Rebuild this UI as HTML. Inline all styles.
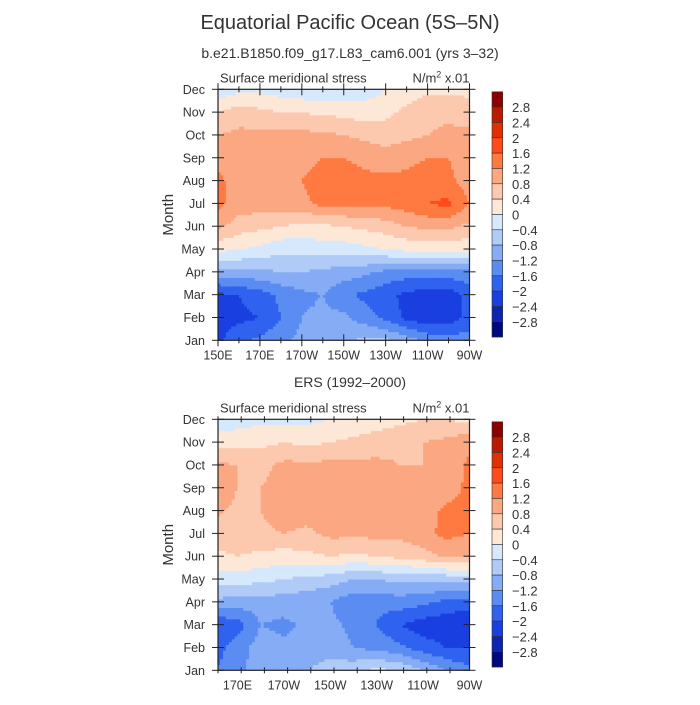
<!DOCTYPE html>
<html><head><meta charset="utf-8"><style>
body{margin:0;background:#fff;}
svg text{font-family:"Liberation Sans",sans-serif;fill:#333;}
</style></head><body>
<svg id="c" width="700" height="700" viewBox="0 0 700 700" xmlns="http://www.w3.org/2000/svg">
<text x="350" y="29" font-size="20" text-anchor="middle">Equatorial Pacific Ocean (5S–5N)</text>
<text x="350" y="58" font-size="14" text-anchor="middle">b.e21.B1850.f09_g17.L83_cam6.001 (yrs 3–32)</text>
<text x="350" y="387" font-size="14" text-anchor="middle">ERS (1992–2000)</text>
<g id="g"></g>
</svg>
<script>
const months=["Jan","Feb","Mar","Apr","May","Jun","Jul","Aug","Sep","Oct","Nov","Dec"];
const levels=[-2.8,-2.4,-2,-1.6,-1.2,-0.8,-0.4,0,0.4,0.8,1.2,1.6,2,2.4,2.8];
const levelLabels=["2.8","2.4","2","1.6","1.2","0.8","0.4","0","−0.4","−0.8","−1.2","−1.6","−2","−2.4","−2.8"];
const colors=["#000880","#0c24b0","#1a3fe0","#2f62ef","#5a8cf2","#86acf6","#b0cbf8","#d6e8fb","#fde8d8","#fcc8ae","#fba882","#ff7a40","#ff4a1a","#e03000","#bb1a00","#8c0000"];
const topLons=[150,160,170,180,190,200,210,220,230,240,250,260,270];
const topVals=[
[-2.1,-1.7,-1.5,-1.3,-1.1,-1.0,-0.9,-0.7,-0.7,-1.0,-1.3,-1.4,-1.4],
[-2.2,-2.1,-2.0,-1.6,-1.2,-1.1,-1.1,-1.4,-1.7,-2.1,-2.3,-2.2,-1.9],
[-2.1,-2.0,-1.8,-1.5,-1.3,-1.2,-1.5,-1.7,-1.9,-2.1,-2.2,-2.2,-1.9],
[-1.0,-0.9,-0.9,-0.8,-0.8,-0.9,-1.0,-1.1,-1.3,-1.4,-1.4,-1.4,-1.3],
[0.1,0.0,-0.1,-0.3,-0.3,-0.2,-0.2,-0.1,0.0,0.1,0.1,0.1,0.1],
[0.9,0.6,0.5,0.4,0.3,0.3,0.4,0.5,0.6,0.8,0.9,0.9,0.7],
[1.3,1.0,1.0,1.0,1.1,1.3,1.3,1.3,1.3,1.4,1.6,1.7,1.2],
[1.3,1.0,1.0,1.0,1.2,1.4,1.4,1.3,1.3,1.3,1.4,1.3,1.0],
[1.1,1.0,0.9,0.9,1.0,1.2,1.2,1.1,1.0,1.1,1.2,1.2,1.0],
[0.8,0.9,0.9,0.9,0.9,0.9,0.8,0.7,0.6,0.7,0.8,0.9,0.9],
[0.4,0.6,0.5,0.4,0.4,0.3,0.3,0.2,0.3,0.5,0.7,0.7,0.6],
[-0.3,-0.1,-0.1,-0.2,-0.3,-0.3,-0.3,-0.2,0.0,0.2,0.3,0.3,0.3]];
const botLons=[160,170,180,190,200,210,220,230,240,250,260,270];
const botVals=[
[-1.6,-1.3,-1.0,-0.9,-0.8,-0.6,-0.5,-0.3,-0.4,-0.8,-1.2,-1.5],
[-1.8,-1.4,-1.0,-1.1,-1.0,-1.0,-1.2,-1.3,-1.5,-1.8,-2.0,-2.0],
[-2.0,-1.8,-1.2,-1.3,-1.1,-1.1,-1.3,-1.6,-2.0,-2.2,-2.3,-2.4],
[-0.9,-1.0,-1.0,-1.0,-1.1,-1.2,-1.5,-1.5,-1.4,-1.5,-1.7,-1.8],
[-0.2,-0.2,-0.3,-0.4,-0.5,-0.6,-0.8,-0.8,-0.7,-0.7,-0.7,-0.6],
[0.3,0.4,0.3,0.2,0.3,0.4,0.3,0.4,0.5,0.6,0.9,0.8],
[0.6,0.6,0.7,0.8,0.7,0.9,0.9,0.9,0.9,1.1,1.3,1.2],
[0.9,0.7,0.8,1.0,1.0,1.0,1.0,1.0,1.0,1.0,1.3,1.3],
[1.1,0.8,0.8,0.9,1.0,1.0,1.0,1.0,0.9,0.9,1.0,1.3],
[0.9,0.8,0.7,0.9,0.9,0.9,0.9,0.9,0.8,0.8,0.9,1.3],
[0.2,0.3,0.3,0.4,0.3,0.4,0.5,0.6,0.7,0.8,0.9,1.1],
[-0.3,-0.2,-0.1,-0.1,-0.1,0.0,0.1,0.2,0.3,0.4,0.4,0.3]];
const topTickLons=[150,170,190,210,230,250,270];
const topTickLabels=["150E","170E","170W","150W","130W","110W","90W"];
const botTickLons=[170,190,210,230,250,270];
const botTickLabels=["170E","170W","150W","130W","110W","90W"];

const NS="http://www.w3.org/2000/svg";
const G=document.getElementById('g');
function mk(t,a,p){const e=document.createElementNS(NS,t);for(const k in a)e.setAttribute(k,a[k]);(p||G).appendChild(e);return e;}
function colorOf(v){let i=0;while(i<levels.length&&v>=levels[i])i++;return colors[i];}

function panel(id,y0,lonMin,lonMax,lons,vals,tickLons,tickLabels){
  const x0=218,x1=469.5,y1=y0+251;
  const X=l=>x0+(l-lonMin)/(lonMax-lonMin)*(x1-x0);
  const Y=m=>y1-m*(y1-y0)/11;
  const pg=mk('g',{});
  
  
  const cp=mk('clipPath',{id:id+'clip'},pg);mk('rect',{x:x0,y:y0,width:x1-x0,height:y1-y0},cp);
  const cg=mk('g',{'clip-path':'url(#'+id+'clip)'},pg);
  
  
  const S=8;
  for(let m=0;m<11;m++)for(let j=0;j<lons.length-1;j++){
    const xa=X(lons[j]),xb=X(lons[j+1]),ya=Y(m),yb=Y(m+1);
    for(let a=0;a<S;a++)for(let b=0;b<S;b++){
      const u=(a+0.5)/S,w=(b+0.5)/S;
      const v=(1-u)*(1-w)*vals[m][j]+u*(1-w)*vals[m][j+1]+(1-u)*w*vals[m+1][j]+u*w*vals[m+1][j+1];
      const r=mk('rect',{x:(xa+(xb-xa)*a/S).toFixed(2),y:(ya+(yb-ya)*(b+1)/S).toFixed(2),width:((xb-xa)/S+0.4).toFixed(2),height:((ya-yb)/S+0.4).toFixed(2),fill:colorOf(v)},cg);
      
      
    }
  }
  const fr=mk('rect',{x:x0,y:y0,width:x1-x0,height:y1-y0,fill:'none',stroke:'#222','stroke-width':1.2},pg);
  
  
  for(let m=0;m<12;m++){
    const y=Y(m);
    mk('line',{x1:x0-6,x2:x0+6,y1:y,y2:y,stroke:'#222'},pg);
    mk('line',{x1:x1-6,x2:x1+6,y1:y,y2:y,stroke:'#222'},pg);
    const t=mk('text',{x:x0-13,y:y+4.5,'font-size':12.5,'text-anchor':'end'},pg);t.textContent=months[m];
    
    
  }
  for(let l=lonMin;l<=lonMax+0.01;l+=10){
    if(l<lonMin)continue;const x=X(l);const big=(Math.round(l)%20===10);
    const s=big?6:3;
    mk('line',{x1:x,x2:x,y1:y1-s,y2:y1+s,stroke:'#222'},pg);
    mk('line',{x1:x,x2:x,y1:y0-s,y2:y0+s,stroke:'#222'},pg);
  }
  tickLons.forEach((l,i)=>{const t=mk('text',{x:X(l),y:y1+19,'font-size':12.5,'text-anchor':'middle'},pg);t.textContent=tickLabels[i];
    
    });
  const yt=mk('text',{x:173,y:(y0+y1)/2,'font-size':15,'text-anchor':'middle',transform:`rotate(-90 173 ${(y0+y1)/2})`},pg);yt.textContent="Month";
  
  
  const lt=mk('text',{x:x0+2,y:y0-7,'font-size':13},pg);lt.textContent="Surface meridional stress";
  
  
  const ut=mk('text',{x:x1,y:y0-7,'font-size':13,'text-anchor':'end'},pg);ut.innerHTML='N/m<tspan font-size="9" dy="-5">2</tspan><tspan dy="5"> x.01</tspan>';
  
  
  const cb=mk('g',{},pg);
  
  
  const cy0=y0+2.5,ch=245.3/16;
  for(let i=0;i<16;i++){
    const r=mk('rect',{x:492,y:cy0+i*ch,width:10.7,height:ch,fill:colors[15-i],stroke:'#333','stroke-width':0.6},cb);
    
    
  }
  for(let i=0;i<15;i++){
    const t=mk('text',{x:512,y:cy0+(i+1)*ch+5,'font-size':13},cb);t.textContent=levelLabels[i];
    
    
  }
}
panel('top',89.3,150,270,topLons,topVals,topTickLons,topTickLabels);
panel('bottom',419.3,161.6,270,botLons,botVals,botTickLons,botTickLabels);
</script>
</body></html>
